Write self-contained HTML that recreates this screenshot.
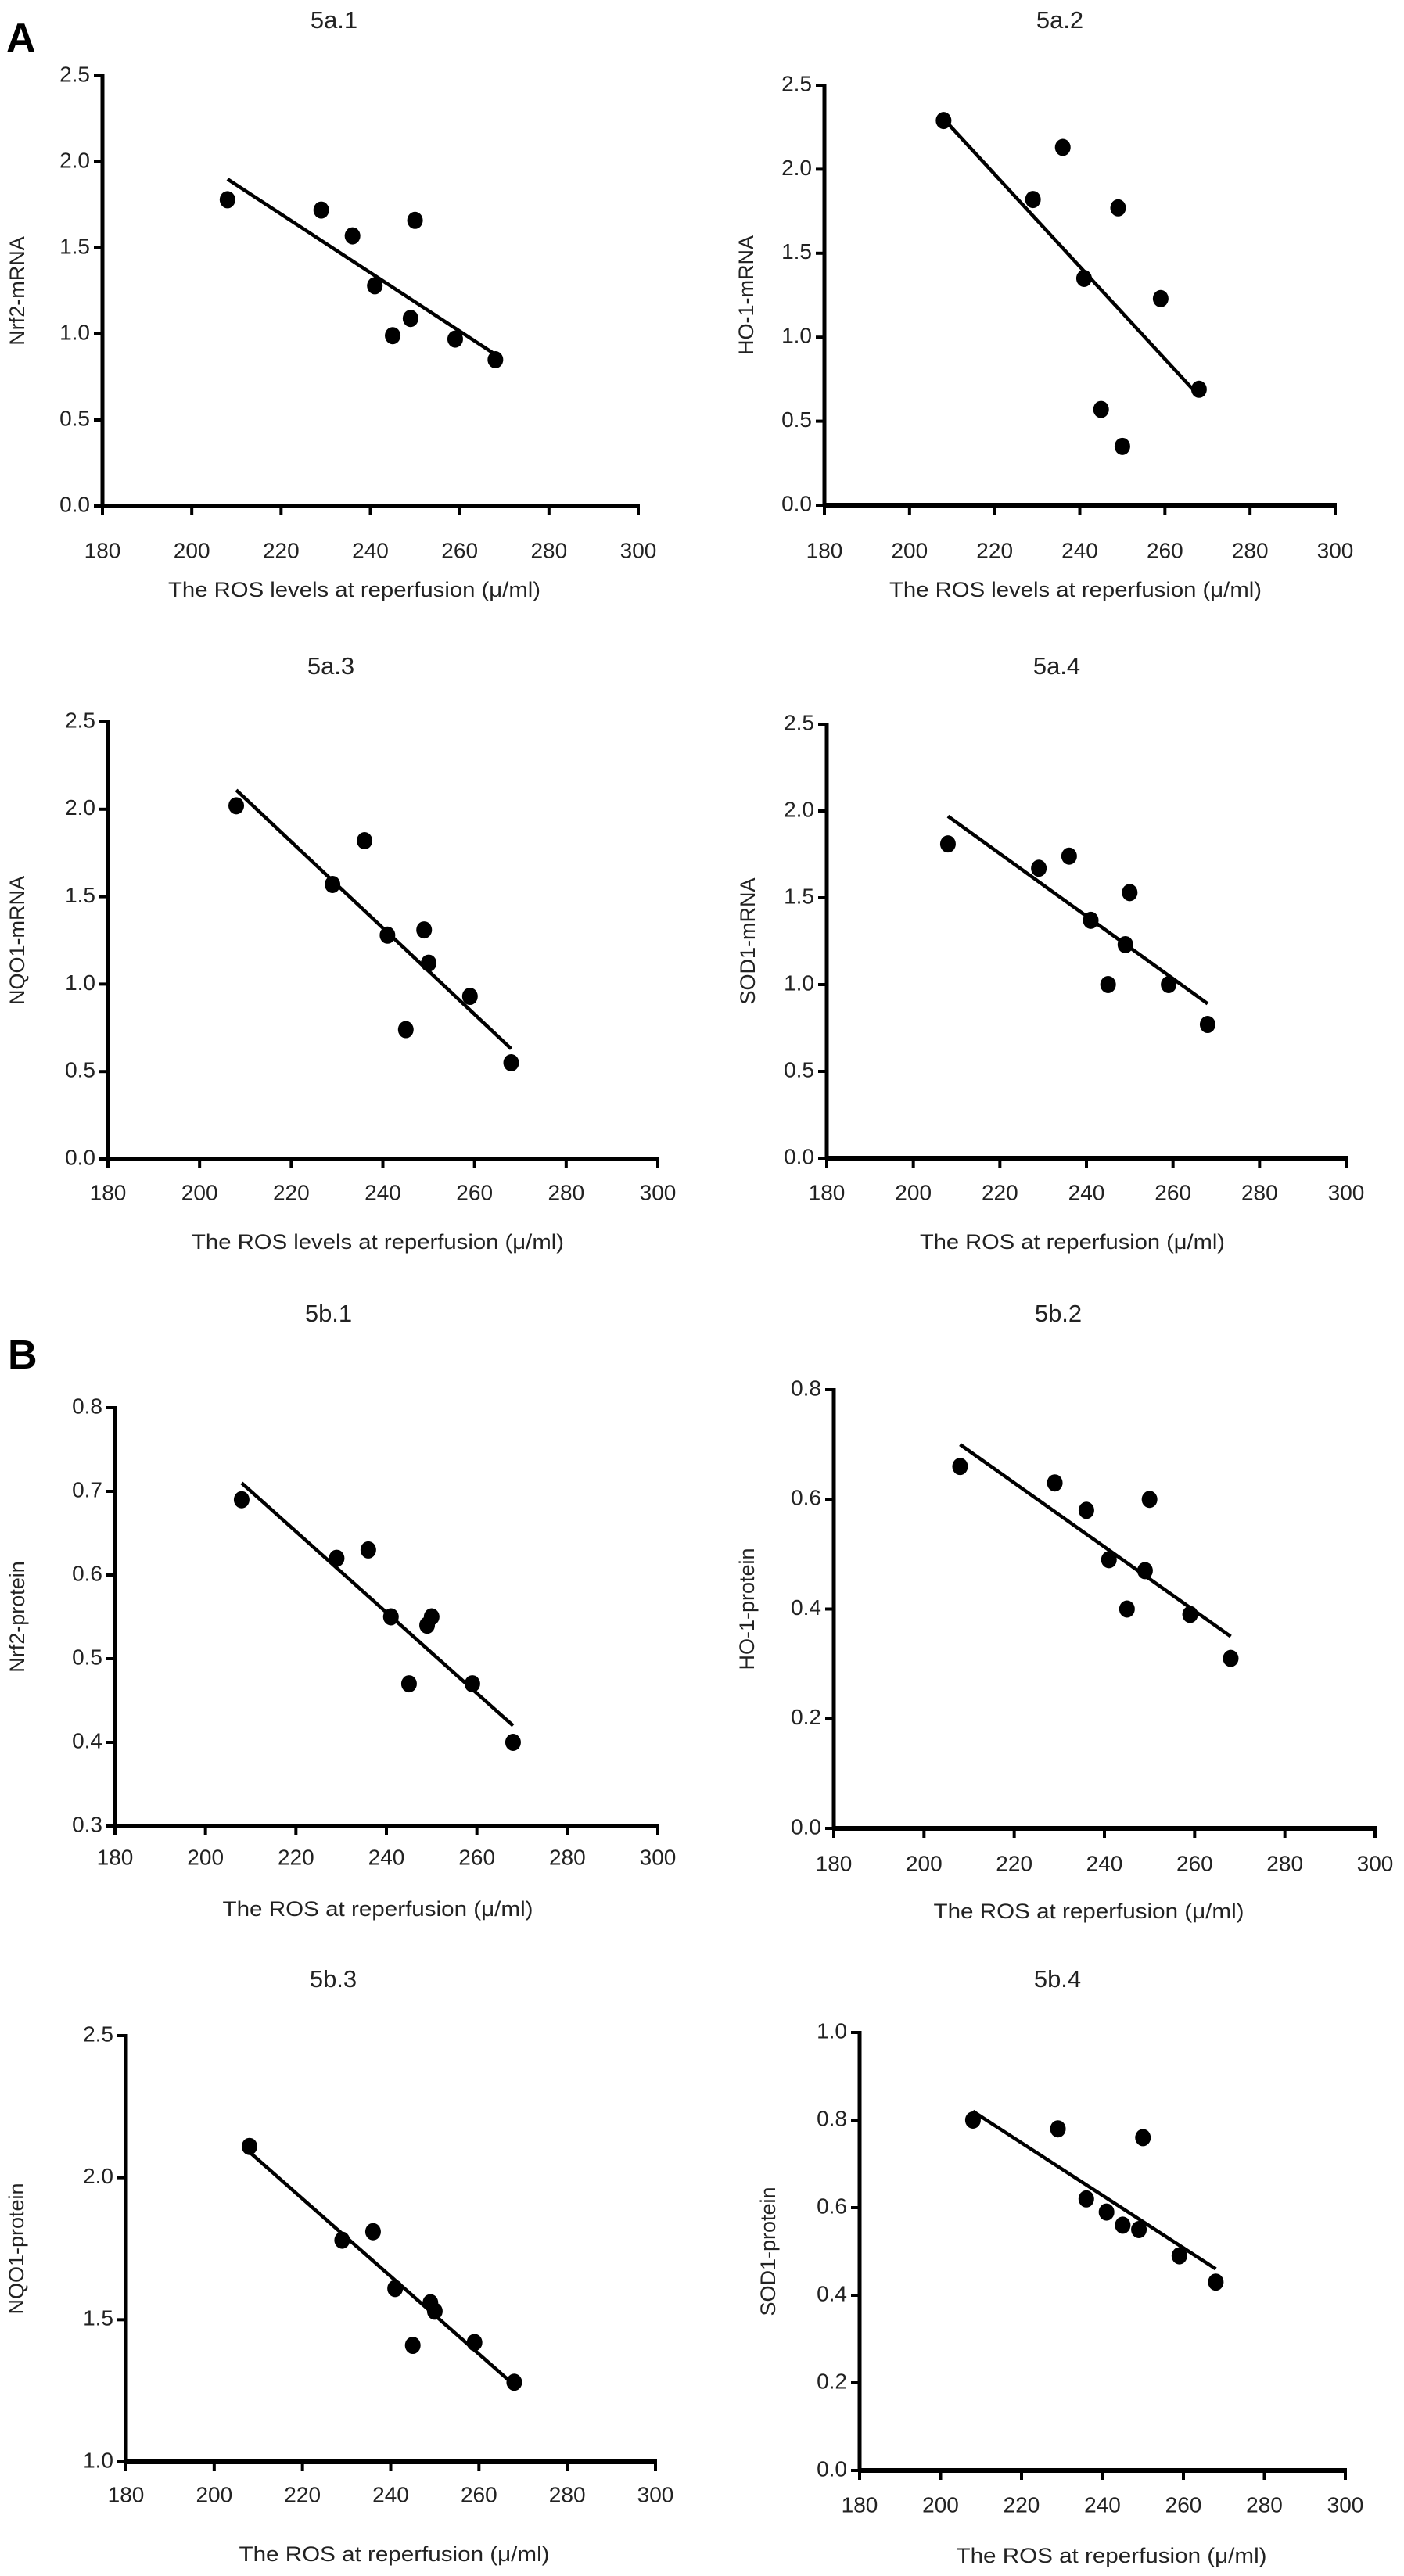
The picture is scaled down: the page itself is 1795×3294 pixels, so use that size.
<!DOCTYPE html>
<html><head><meta charset="utf-8">
<style>
html,body{margin:0;padding:0;background:#fff;}
svg{display:block;font-family:"Liberation Sans",Arial,sans-serif;}
</style></head>
<body>
<svg id="fig" width="1795" height="3294" viewBox="0 0 1795 3294">
<text x="8" y="66" font-size="52" font-weight="bold">A</text>
<text x="10" y="1750" font-size="52" font-weight="bold">B</text>
</svg>
<script>
// shared x categories (ROS levels)
const xValues = [208, 229, 236, 241, 245, 249, 250, 259, 268];
const xTicks = [180, 200, 220, 240, 260, 280, 300];
// per-panel series values
const nrf2Mrna = [1.78, 1.72, 1.57, 1.28, 0.99, 1.09, 1.66, 0.97, 0.85];
const ho1Mrna = [2.29, 1.82, 2.13, 1.35, 0.57, 1.77, 0.35, 1.23, 0.69];
const nqo1Mrna = [2.02, 1.57, 1.82, 1.28, 0.74, 1.31, 1.12, 0.93, 0.55];
const sod1Mrna = [1.81, 1.67, 1.74, 1.37, 1.00, 1.23, 1.53, 1.00, 0.77];
const nrf2Protein = [0.69, 0.62, 0.63, 0.55, 0.47, 0.54, 0.55, 0.47, 0.40];
const ho1Protein = [0.66, 0.63, 0.58, 0.49, 0.40, 0.47, 0.60, 0.39, 0.31];
const nqo1Protein = [2.11, 1.78, 1.81, 1.61, 1.41, 1.56, 1.53, 1.42, 1.28];
const sod1Protein = [0.80, 0.78, 0.62, 0.59, 0.56, 0.55, 0.76, 0.49, 0.43];
// regression line endpoints [y at x=208, y at x=268]
const fitX = [208, 268];
const nrf2MrnaFit = [1.90, 0.88];
const ho1MrnaFit = [2.30, 0.65];
const nqo1MrnaFit = [2.11, 0.63];
const sod1MrnaFit = [1.97, 0.89];
const nrf2ProteinFit = [0.71, 0.42];
const ho1ProteinFit = [0.70, 0.35];
const nqo1ProteinFit = [2.09, 1.27];
const sod1ProteinFit = [0.82, 0.46];
// y tick labels
const yTicksMrna = ["0.0","0.5","1.0","1.5","2.0","2.5"];
const yTicksNrf2P = ["0.3","0.4","0.5","0.6","0.7","0.8"];
const yTicksHo1P = ["0.0","0.2","0.4","0.6","0.8"];
const yTicksNqo1P = ["1.0","1.5","2.0","2.5"];
const yTicksSod1P = ["0.0","0.2","0.4","0.6","0.8","1.0"];

const NS = "http://www.w3.org/2000/svg";
const svg = document.getElementById('fig');
function mk(tag, attrs, parent){
  const e = document.createElementNS(NS, tag);
  for (const k in attrs) e.setAttribute(k, attrs[k]);
  (parent||svg).appendChild(e);
  return e;
}

const panels = [
 {id:'5a-1', title:'5a.1', ylab:'Nrf2-mRNA', xlab:'The ROS levels at reperfusion (\u03bc/ml)', vals:nrf2Mrna, fit:nrf2MrnaFit, yt:yTicksMrna,
  x0:131, x1:816, y0:647, y1:97, tx:427, ty:28, ylx:24, xly:756, xlx:453, xlw:476, tly:706, cond:false},
 {id:'5a-2', title:'5a.2', ylab:'HO-1-mRNA', xlab:'The ROS levels at reperfusion (\u03bc/ml)', vals:ho1Mrna, fit:ho1MrnaFit, yt:yTicksMrna,
  x0:1054, x1:1707, y0:646, y1:109, tx:1355, ty:28, ylx:956, xly:756, xlx:1375, xlw:476, tly:706, cond:false},
 {id:'5a-3', title:'5a.3', ylab:'NQO1-mRNA', xlab:'The ROS levels at reperfusion (\u03bc/ml)', vals:nqo1Mrna, fit:nqo1MrnaFit, yt:yTicksMrna,
  x0:138, x1:841, y0:1482, y1:923, tx:423, ty:854, ylx:24, xly:1590, xlx:483, xlw:476, tly:1527, cond:false},
 {id:'5a-4', title:'5a.4', ylab:'SOD1-mRNA', xlab:'The ROS at reperfusion (\u03bc/ml)', vals:sod1Mrna, fit:sod1MrnaFit, yt:yTicksMrna,
  x0:1057, x1:1721, y0:1481, y1:926, tx:1351, ty:854, ylx:958, xly:1590, xlx:1371, xlw:390, tly:1527, cond:false},
 {id:'5b-1', title:'5b.1', ylab:'Nrf2-protein', xlab:'The ROS at reperfusion (\u03bc/ml)', vals:nrf2Protein, fit:nrf2ProteinFit, yt:yTicksNrf2P,
  x0:147, x1:841, y0:2335, y1:1800, tx:420, ty:1682, ylx:24, xly:2443, xlx:483, xlw:397, tly:2377, cond:true},
 {id:'5b-2', title:'5b.2', ylab:'HO-1-protein', xlab:'The ROS at reperfusion (\u03bc/ml)', vals:ho1Protein, fit:ho1ProteinFit, yt:yTicksHo1P,
  x0:1066, x1:1758, y0:2338, y1:1777, tx:1353, ty:1682, ylx:957, xly:2446, xlx:1392, xlw:397, tly:2385, cond:true},
 {id:'5b-3', title:'5b.3', ylab:'NQO1-protein', xlab:'The ROS at reperfusion (\u03bc/ml)', vals:nqo1Protein, fit:nqo1ProteinFit, yt:yTicksNqo1P,
  x0:161, x1:838, y0:3148, y1:2603, tx:426, ty:2533, ylx:23, xly:3268, xlx:504, xlw:397, tly:3192, cond:true},
 {id:'5b-4', title:'5b.4', ylab:'SOD1-protein', xlab:'The ROS at reperfusion (\u03bc/ml)', vals:sod1Protein, fit:sod1ProteinFit, yt:yTicksSod1P,
  x0:1099, x1:1720, y0:3159, y1:2599, tx:1352, ty:2533, ylx:984, xly:3270, xlx:1421, xlw:397, tly:3205, cond:true}
];

panels.forEach(p => {
  const g = mk('g', {});
  
  
  const ymin = parseFloat(p.yt[0]), ymax = parseFloat(p.yt[p.yt.length-1]);
  const xs = v => p.x0 + (v - xTicks[0]) / (xTicks[xTicks.length-1] - xTicks[0]) * (p.x1 - p.x0);
  const ys = v => p.y0 - (v - ymin) / (ymax - ymin) * (p.y0 - p.y1);
  const fs = 28;

  const t = mk('text', {x:p.tx, y:p.ty, 'font-size':31, 'text-anchor':'middle', 'dominant-baseline':'middle', fill:'#222'}, g);
  t.textContent = p.title;
  
  

  const ya = mk('line', {x1:p.x0, y1:p.y0, x2:p.x0, y2:p.y1-2, stroke:'#000', 'stroke-width':5}, g);
  
  
  const xa = mk('line', {x1:p.x0-2, y1:p.y0, x2:p.x1+2, y2:p.y0, stroke:'#000', 'stroke-width':6}, g);
  
  

  p.yt.forEach(lbl => {
    const y = ys(parseFloat(lbl));
    const tk = mk('line', {x1:p.x0-11, y1:y, x2:p.x0, y2:y, stroke:'#000', 'stroke-width':4}, g);
    
    
    const tl = mk('text', {x:p.x0-16, y:y, 'font-size':fs, 'text-anchor':'end', 'dominant-baseline':'middle', fill:'#222'}, g);
    tl.textContent = lbl;
    
    
  });
  xTicks.forEach(v => {
    const x = xs(v);
    const tk = mk('line', {x1:x, y1:p.y0, x2:x, y2:p.y0+12, stroke:'#000', 'stroke-width':4}, g);
    
    
    const tl = mk('text', {x:x, y:p.tly, 'font-size':fs, 'text-anchor':'middle', 'dominant-baseline':'middle', fill:'#222'}, g);
    tl.textContent = v;
    
    
  });

  const xl = mk('text', {x:p.xlx, y:p.xly, 'font-size':27, 'text-anchor':'middle', 'dominant-baseline':'middle', fill:'#222', textLength:p.xlw, lengthAdjust:'spacingAndGlyphs'}, g);
  xl.textContent = p.xlab;
  
  
  const ycy = (p.y0 + p.y1) / 2;
  const yl = mk('text', {x:p.ylx, y:ycy, 'font-size':27, 'text-anchor':'middle', 'dominant-baseline':'middle', fill:'#222', transform:'rotate(-90 '+p.ylx+' '+ycy+')'}, g);
  yl.textContent = p.ylab;
  
  

  const fl = mk('line', {x1:xs(fitX[0]), y1:ys(p.fit[0]), x2:xs(fitX[1]), y2:ys(p.fit[1]), stroke:'#000', 'stroke-width':4.5}, g);
  
  

  p.vals.forEach((v, i) => {
    const c = mk('ellipse', {cx:xs(xValues[i]), cy:ys(v), rx:10, ry:11, fill:'#000'}, g);
    
    
  });
});
</script>
</body></html>
